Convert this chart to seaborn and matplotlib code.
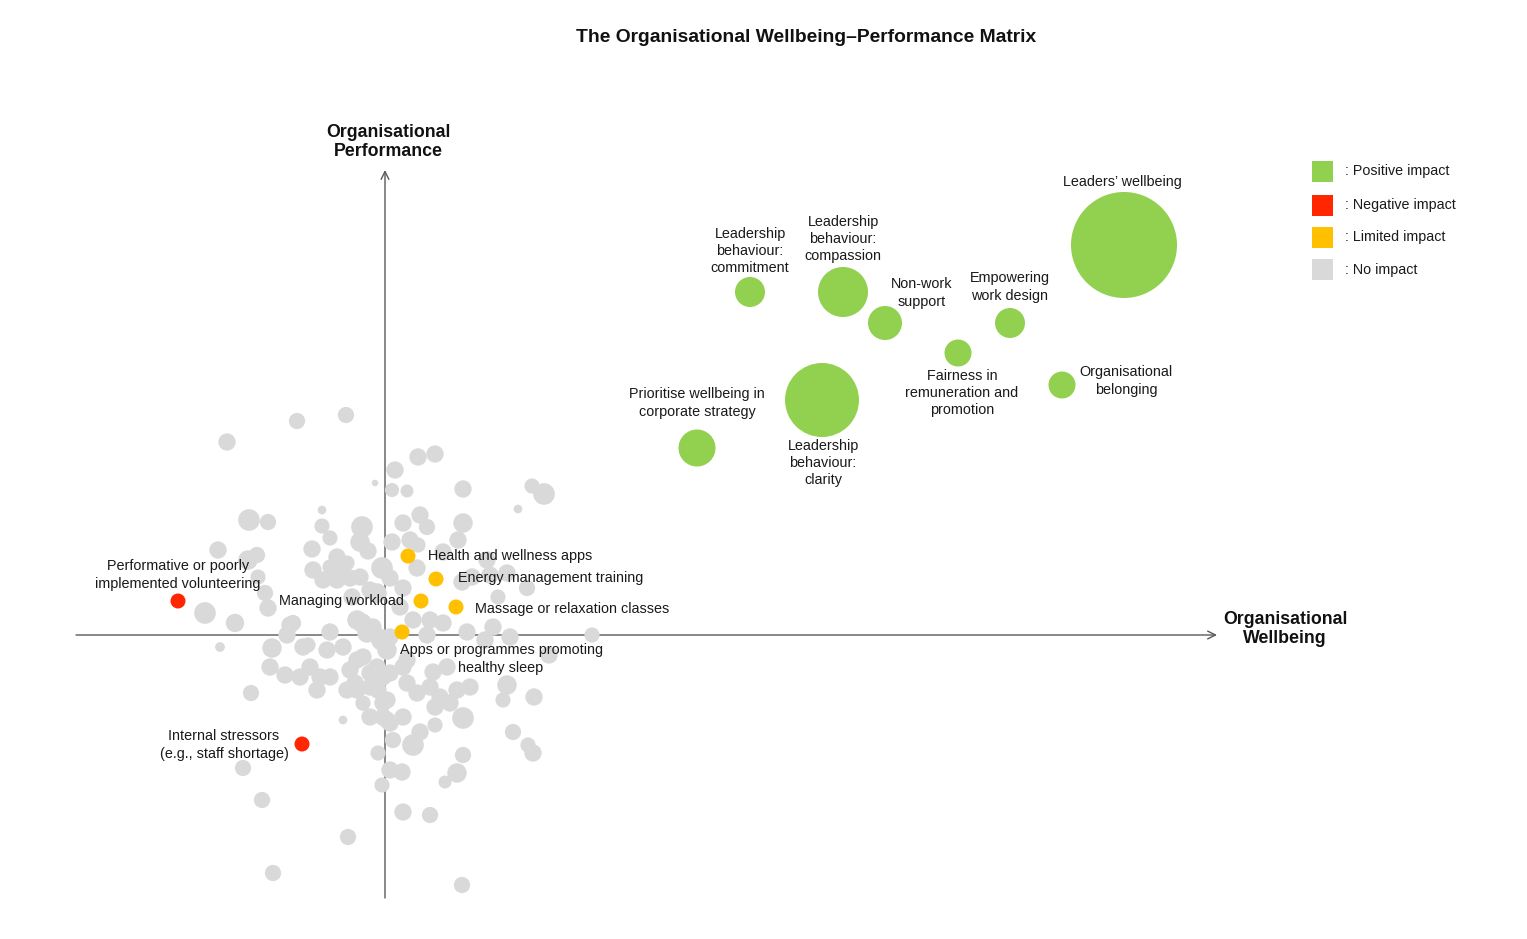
import matplotlib
matplotlib.use("Agg")
import matplotlib.pyplot as plt
from matplotlib.patches import Rectangle
import seaborn as sns
import pandas as pd

sns.set_theme(style="white")
plt.rcParams['font.family'] = ['Liberation Sans', 'DejaVu Sans']

# ---------------- data ----------------
# Wellbeing (x) and performance (y) scores, bubble weight
green_labels = ["Leadership\nbehaviour:\ncommitment", "Leadership\nbehaviour:\ncompassion",
                "Non-work\nsupport", "Empowering\nwork design",
                "Fairness in\nremuneration and\npromotion", "Organisational\nbelonging",
                "Leaders’ wellbeing", "Prioritise wellbeing in\ncorporate strategy",
                "Leadership\nbehaviour:\nclarity"]
green_x = [36.5, 45.8, 50.0, 62.5, 57.3, 67.7, 73.9, 31.2, 43.7]
green_y = [34.3, 34.3, 31.2, 31.2, 28.2, 25.0, 39.0, 18.7, 23.5]
green_w = [30, 50, 34, 30, 27, 27, 106, 37, 74]

orange_labels = ["Health and wellness apps", "Energy management training", "Managing workload",
                 "Massage or relaxation classes", "Apps or programmes promoting\nhealthy sleep"]
orange_x = [2.3, 5.1, 3.6, 7.1, 1.7]
orange_y = [7.9, 5.6, 3.4, 2.8, 0.3]
orange_w = [15, 15, 15, 15, 15]

red_labels = ["Performative or poorly\nimplemented volunteering",
              "Internal stressors\n(e.g., staff shortage)"]
red_x = [-20.7, -8.3]
red_y = [3.4, -10.9]
red_w = [15, 15]

grey_x = [-15.8, -8.8, -3.9, -6.3, -1.0, -13.6, -11.7, -16.7, -12.8, -13.7, -18.0, -15.0, -16.5,
          -12.7, -12.0, -11.7, -14.2, -12.3, -3.7, -11.2, 7.7, 1.8, 4.5, 20.7, 15.9, 14.7, 13.3,
          3.3, 5.0, 7.8, 1.0, 0.7, 2.2, -13.4, 14.8, 14.3, 12.8, 16.4, 14.9, 14.2, -4.2,
          -6.3, -5.5, -7.3, -2.3, -2.5, -1.7, -4.8, -4.3, -7.2, -6.2, -4.8, -3.5, -2.5, -0.3,
          0.5, 1.8, -1.5, -3.3, -5.5, -3.8, -0.8, -2.3, -0.3, 0.2, -2.8, -1.8, -1.2, 0.5, -5.5,
          -9.2, -8.2, -5.8, -4.2, -2.2, -3.5, -3.0, -3.8, -0.8, -0.2, -0.7, 0.2, -7.5, -8.5,
          -6.5, -5.5, -6.8, -10.0, -11.3, -11.5, -9.5, -9.8, -7.7, -2.8, -1.5, -2.8, -1.5, -0.2,
          -0.2, -2.2,
          1.8, 3.5, 4.2, 0.7, 2.5, 3.3, 3.2, 7.8, 7.3, 5.8, 10.2, 8.7, 10.5, 12.2, 11.3, 7.7,
          1.5, 2.8, 4.5, 5.8, 8.2, 10.8, 12.5, 4.2, 10.0,
          2.2, 1.8, 2.2, 3.2, 4.8, 6.2, 4.5, 7.2, 8.5, 5.5, 6.5, 11.8, 12.2, 0.5, 0.5, 0.8,
          2.8, 3.5, 5.0, 5.0, 7.8, 7.8, 7.2, 6.0, -1.5, 0.2, 1.8, -0.7, 0.5, 1.7, -0.3, -2.3]
grey_y = [19.3, 21.4, 22.0, 12.5, 15.2, 11.5, 11.3, 8.5, 8.0, 7.5, 2.2, 1.2, -1.2,
          5.8, 4.2, 2.7, -13.3, -16.5, -20.2, -23.8, -25.0, -17.7, -18.0, 0.0, 14.1, 14.9, 12.6,
          17.8, 18.1, 14.6, 16.5, 14.5, 14.4, -5.8, -11.8, -11.0, -9.7, -2.0, -6.2, 4.7, -8.5,
          10.9, 9.7, 8.6, 10.8, 9.3, 8.4, 7.8, 6.7, 6.5, 5.5, 5.5, 5.7, 5.8, 6.7,
          5.7, 4.7, 4.5, 3.8, 6.8, 7.2, 4.2, 1.2, -0.5, -1.5, 1.5, 0.2, 0.8, -0.2, 0.3,
          1.2, -1.2, -1.5, -1.2, -2.2, -3.5, -4.8, -5.5, -3.2, -4.2, -5.5, -6.5, -3.2, -4.2,
          -4.2, -4.2, -5.5, -4.0, -1.3, -3.2, 1.0, 0.0, -1.0, -2.5, -3.8, -5.5, -5.2, -6.8,
          -8.2, -6.8,
          11.2, 12.0, 10.8, 9.3, 9.5, 9.0, 6.7, 11.2, 9.5, 8.3, 7.5, 5.8, 6.0, 6.2, 3.8, 5.3,
          2.8, 1.5, 1.5, 1.2, 0.3, 0.8, -0.2, 0.0, -0.5,
          -2.5, -3.2, -4.8, -5.8, -3.7, -3.2, -5.2, -5.5, -5.2, -6.2, -6.8, -6.5, -5.0, -3.8, -8.8, -10.5,
          -11.0, -9.7, -9.0, -7.2, -8.3, -12.0, -13.8, -14.7, -8.2, -8.5, -8.2, -11.8, -13.5, -13.7, -15.0, -7.0]
grey_w = [16, 15, 15, 8, 6, 20, 15, 16, 15, 18, 20, 17, 9,
          14, 15, 16, 15, 15, 15, 15, 15, 16, 15, 14, 20, 14, 8,
          16, 16, 16, 16, 13, 12, 15, 16, 14, 15, 16, 16, 15, 8,
          14, 14, 16, 20, 18, 16, 16, 16, 16, 16, 16, 16, 16, 20,
          16, 16, 16, 16, 14, 14, 18, 18, 20, 18, 18, 18, 16, 16, 16,
          15, 16, 16, 16, 16, 16, 16, 16, 16, 16, 16, 16, 16, 16,
          16, 16, 16, 16, 18, 16, 16, 16, 14, 16, 16, 16, 16, 16,
          16, 14,
          16, 16, 15, 16, 16, 14, 16, 18, 16, 16, 16, 16, 16, 16, 14, 16,
          16, 16, 16, 16, 16, 16, 16, 16, 16,
          16, 16, 16, 16, 16, 16, 16, 16, 16, 16, 16, 14, 18, 16, 16, 15,
          20, 16, 14, 16, 20, 15, 18, 12, 16, 16, 16, 14, 16, 16, 14, 10]

legend_labels = [": Positive impact", ": Negative impact", ": Limited impact", ": No impact"]

GREEN, RED, ORANGE, GREY = "#92D050", "#FF2600", "#FFC000", "#D9D9D9"
legend_colors = [GREEN, RED, ORANGE, GREY]

# ---------------- figure ----------------
W, H = 1527, 939
fig = plt.figure(figsize=(W / 100, H / 100), dpi=100)
ax = fig.add_axes([0, 0, 1, 1])
ax.set_xlim(-38.5, 114.2)
ax.set_ylim(-30.4, 63.5)
ax.axis("off")

def area(ws, k=0.72):
    return [(k * w) ** 2 for w in ws]

# axes arrows
axis_col = "#595959"
ax.annotate("", xy=(83.2, 0), xytext=(-30.9, 0),
            arrowprops=dict(arrowstyle="->", color=axis_col, lw=1.0, shrinkA=0, shrinkB=0,
                            mutation_scale=14), zorder=1)
ax.annotate("", xy=(0, 46.5), xytext=(0, -26.3),
            arrowprops=dict(arrowstyle="->", color=axis_col, lw=1.0, shrinkA=0, shrinkB=0,
                            mutation_scale=14), zorder=1)

grey_df = pd.DataFrame({"wellbeing": grey_x, "performance": grey_y})
sns.scatterplot(data=grey_df, x="wellbeing", y="performance", s=area(grey_w, 0.78), color=GREY,
                linewidth=0, ax=ax, zorder=2, legend=False)
for xs, ys, ws, col in [(green_x, green_y, green_w, GREEN), (orange_x, orange_y, orange_w, ORANGE),
                        (red_x, red_y, red_w, RED)]:
    df = pd.DataFrame({"wellbeing": xs, "performance": ys})
    sns.scatterplot(data=df, x="wellbeing", y="performance", s=area(ws), color=col,
                    linewidth=0, ax=ax, zorder=3, legend=False)
ax.set_xlabel("")
ax.set_ylabel("")

fs = 10.4
tc = "#1a1a1a"
def lab(t, x, y, ha="center"):
    ax.text(x, y, t, ha=ha, va="center", fontsize=fs, color=tc, zorder=5, linespacing=1.28)

# green labels
lab(green_labels[0], 36.5, 38.4)
lab(green_labels[1], 45.8, 39.6)
lab(green_labels[2], 53.7, 34.2)
lab(green_labels[3], 62.5, 34.8)
lab(green_labels[4], 57.7, 24.2)
lab(green_labels[5], 74.1, 25.4)
lab(green_labels[6], 73.7, 45.3)
lab(green_labels[7], 31.2, 23.2)
lab(green_labels[8], 43.8, 17.2)
# orange labels
lab(orange_labels[0], 4.3, 7.9, "left")
lab(orange_labels[1], 7.3, 5.7, "left")
lab(orange_labels[2], 1.9, 3.4, "right")
lab(orange_labels[3], 9.0, 2.6, "left")
lab(orange_labels[4], 11.6, -2.4)
# red labels
lab(red_labels[0], -20.7, 6.0)
lab(red_labels[1], -16.1, -11.0)

# axis titles
ax.text(0.3, 49.3, "Organisational\nPerformance", ha="center", va="center", fontsize=12.8,
        fontweight="bold", color="#111111", linespacing=1.15)
ax.text(90.0, 0.6, "Organisational\nWellbeing", ha="center", va="center", fontsize=12.8,
        fontweight="bold", color="#111111", linespacing=1.15)

fig.text(806 / W, 1 - 37.5 / H, "The Organisational Wellbeing–Performance Matrix",
         ha="center", va="center", fontsize=13.9, fontweight="bold", color="#111111")

# legend
leg_y = [171, 205, 237, 270]
for yy, col, txt in zip(leg_y, legend_colors, legend_labels):
    fig.add_artist(Rectangle((1312 / W, 1 - (yy + 10.5) / H), 21 / W, 21 / H,
                             transform=fig.transFigure, facecolor=col, edgecolor="none"))
    fig.text(1345 / W, 1 - yy / H, txt, ha="left", va="center", fontsize=10.3, color=tc)

fig.savefig("out.png", dpi=100)
